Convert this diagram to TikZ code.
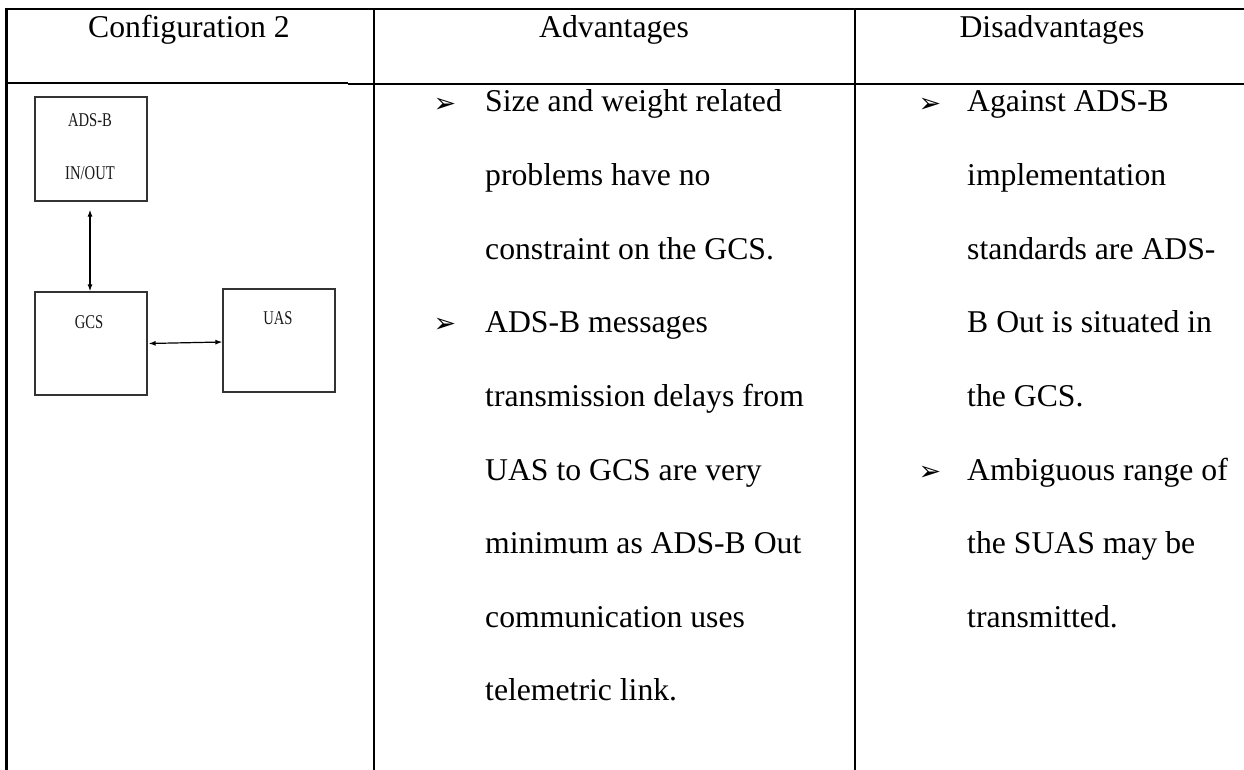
\documentclass[tikz,border=0pt]{standalone}
\usepackage{fontspec}
\setmainfont{Liberation Serif}
\newfontfamily\narrowfont[FakeStretch=0.75]{Liberation Serif}
\newfontfamily\bulletfont{DejaVu Sans}
\usetikzlibrary{arrows.meta}
\begin{document}
\begin{tikzpicture}[x=1pt,y=-1pt,
  rule/.style={line width=2.6pt,black},
  thinrule/.style={line width=1.6pt,black},
  hdr/.style={inner sep=0pt,anchor=base,font=\fontsize{31.7}{38}\selectfont},
  txt/.style={inner sep=0pt,anchor=base west,font=\fontsize{31.7}{38}\selectfont},
  bul/.style={inner sep=0pt,anchor=center,font=\bulletfont\fontsize{27}{30}\selectfont},
  blk/.style={draw=black!80,line width=1.3pt,minimum width=112pt,minimum height=103pt,inner sep=0pt},
  lbl/.style={inner sep=0pt,font=\narrowfont\fontsize{19.5}{22}\selectfont,text=black!90},
  conn/.style={line width=1.2pt,{Latex[length=7pt,width=5pt]}-{Latex[length=7pt,width=5pt]}}
]
\useasboundingbox (0,0) rectangle (1244,770);
\fill[white] (0,0) rectangle (1244,770);

% table rules
\draw[rule] (5,9) -- (1244,9);
\draw[line width=3pt] (6.5,7.7) -- (6.5,770);
\draw[thinrule] (5,83.3) -- (348,83.3);
\draw[rule] (348,84) -- (1244,84);
\draw[line width=2.2pt] (373.7,9) -- (373.7,770);
\draw[rule] (855,9) -- (855,770);

% headers
\node[hdr] (h1) at (189,38) {Configuration 2};
\node[hdr] (h2) at (614,38) {Advantages};
\node[hdr] (h3) at (1052,38) {Disadvantages};

% diagram
\node[blk,minimum height=104pt] (adsb) at (91,149) {};
\node[lbl] (adsbA) at (90,120) {ADS-B};
\node[lbl] (adsbB) at (90,173) {IN/OUT};
\node[blk] (gcs) at (91,343.5) {};
\node[lbl] (gcsT) at (89,322) {GCS};
\node[blk] (uas) at (279,340.5) {};
\node[lbl] (uasT) at (278,318) {UAS};
\draw[conn] ([xshift=-1pt,yshift=-8pt]adsb.south) -- ([xshift=-1pt]gcs.north);
\draw[conn] ([xshift=1pt]gcs.east) -- ([yshift=-1.5pt]uas.west);

% advantages
\node[bul] (b1) at (445,105) {➢};
\node[txt] (a1) at (485,112) {Size and weight related};
\node[txt] (a2) at (485,185.6) {problems have no};
\node[txt] (a3) at (485,259.2) {constraint on the GCS.};
\node[bul] (b2) at (445,325.8) {➢};
\node[txt] (a4) at (485,332.8) {ADS-B messages};
\node[txt] (a5) at (485,406.4) {transmission delays from};
\node[txt] (a6) at (485,480) {UAS to GCS are very};
\node[txt] (a7) at (485,553.6) {minimum as ADS-B Out};
\node[txt] (a8) at (485,627.2) {communication uses};
\node[txt] (a9) at (485,700.8) {telemetric link.};

% disadvantages
\node[bul] (b3) at (930,105) {➢};
\node[txt] (d1) at (967,112) {Against ADS-B};
\node[txt] (d2) at (967,185.6) {implementation};
\node[txt] (d3) at (967,259.2) {standards are ADS-};
\node[txt] (d4) at (967,332.8) {B Out is situated in};
\node[txt] (d5) at (967,406.4) {the GCS.};
\node[bul] (b4) at (930,473) {➢};
\node[txt] (d6) at (967,480) {Ambiguous range of};
\node[txt] (d7) at (967,553.6) {the SUAS may be};
\node[txt] (d8) at (967,627.2) {transmitted.};
\end{tikzpicture}
\end{document}
